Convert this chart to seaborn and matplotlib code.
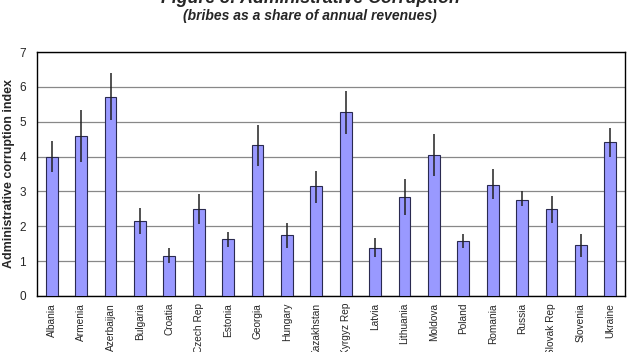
import matplotlib
matplotlib.use('Agg')
import matplotlib.pyplot as plt
import seaborn as sns
import pandas as pd
import numpy as np

countries = ['Albania', 'Armenia', 'Azerbaijan', 'Bulgaria', 'Croatia', 'Czech Rep',
             'Estonia', 'Georgia', 'Hungary', 'Kazakhstan', 'Kyrgyz Rep', 'Latvia',
             'Lithuania', 'Moldova', 'Poland', 'Romania', 'Russia', 'Slovak Rep',
             'Slovenia', 'Ukraine']
index_values = [4.00, 4.58, 5.71, 2.16, 1.16, 2.51, 1.64, 4.32, 1.74, 3.15,
                5.27, 1.39, 2.84, 4.05, 1.58, 3.19, 2.76, 2.49, 1.45, 4.43]
err_low = [3.55, 3.83, 5.06, 1.77, 0.95, 2.06, 1.41, 3.74, 1.39, 2.68,
           4.64, 1.12, 2.31, 3.44, 1.39, 2.77, 2.58, 2.09, 1.12, 4.00]
err_high = [4.44, 5.34, 6.41, 2.53, 1.37, 2.94, 1.85, 4.91, 2.08, 3.59,
            5.89, 1.65, 3.37, 4.66, 1.79, 3.65, 3.01, 2.88, 1.79, 4.82]

df = pd.DataFrame({'country': countries, 'index': index_values})

sns.set_style('white')
plt.rcParams['font.family'] = ['Liberation Sans', 'DejaVu Sans']

fig = plt.figure(figsize=(6.32, 3.52), dpi=100)
ax = fig.add_axes([37 / 632, 1 - 296 / 352, 588 / 632, 244 / 352])

sns.barplot(data=df, x='country', y='index', ax=ax, color='#9999ff',
            saturation=1, width=0.4, edgecolor='#2a2a50', linewidth=0.8, zorder=3)

# error bars drawn from the low/high arrays
vals = np.array(index_values)
yerr = np.vstack([vals - np.array(err_low), np.array(err_high) - vals])
ax.errorbar(np.arange(len(countries)), vals, yerr=yerr, fmt='none',
            ecolor='#222222', elinewidth=1.1, capsize=0, zorder=4)

ax.set_ylim(0, 7)
ax.set_xlim(-0.5, len(countries) - 0.5)
ax.set_yticks(range(0, 8))
ax.yaxis.grid(True, color='#888888', linewidth=0.9, zorder=0)
ax.set_axisbelow(True)
for s in ax.spines.values():
    s.set_color('black')
    s.set_linewidth(1.0)

ax.set_xlabel('')
ax.set_ylabel('Administrative corruption index', fontsize=9, fontweight='bold')
ax.yaxis.set_label_coords(-22 / 588, 0.5)
ax.tick_params(axis='y', labelsize=8.5, length=0, pad=8)
ax.tick_params(axis='x', labelsize=7.3, length=0, pad=5)
plt.setp(ax.get_xticklabels(), rotation=90)

fig.text(0.491, 1 - 3 / 352, 'Figure 3: Administrative Corruption', ha='center', va='baseline',
         fontsize=12.8, fontweight='bold', style='italic')
fig.text(0.491, 1 - 16 / 352, '(bribes as a share of annual revenues)', ha='center',
         va='center', fontsize=10, fontweight='bold', style='italic')

fig.savefig('out.png', dpi=100)
